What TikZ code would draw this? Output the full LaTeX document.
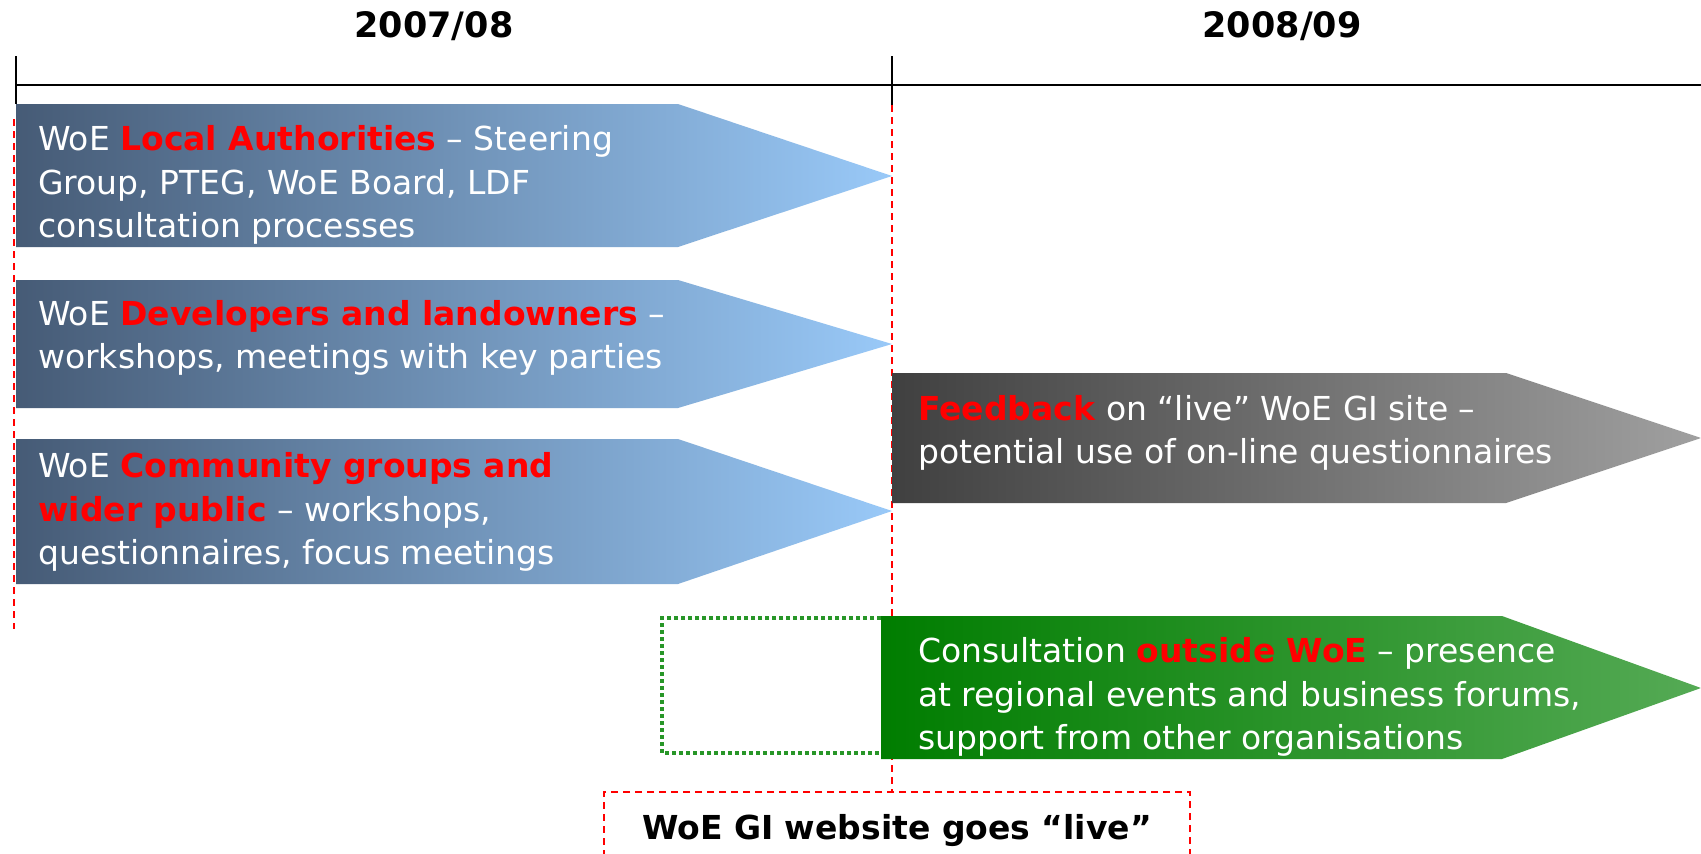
\documentclass[tikz,border=0pt]{standalone}
\usepackage{fontspec}
\setmainfont{DejaVu Sans}
\usetikzlibrary{positioning}
\definecolor{slate}{RGB}{70,91,118}
\definecolor{sky}{RGB}{153,201,248}
\definecolor{coal}{RGB}{64,64,64}
\definecolor{ash}{RGB}{160,160,160}
\definecolor{leaf}{RGB}{0,125,0}
\definecolor{lime}{RGB}{85,170,85}
\definecolor{dotgreen}{RGB}{40,150,40}
\newcommand{\redbf}[1]{\textcolor{red}{\textbf{#1}}}
\tikzset{%
	txt/.style={text=white, align=left, anchor=west, inner sep=0pt, font=\fontsize{33}{43.5}\selectfont},
	year/.style={font=\fontsize{35}{40}\selectfont\bfseries},
	cut/.style={red, line width=1.5pt, dash pattern=on 7pt off 5pt},
	blue/.style={left color=slate, right color=sky},
	grey/.style={left color=coal, right color=ash},
	green/.style={left color=leaf, right color=lime}}

\begin{document}
\begin{tikzpicture}[x=1pt,y=-1pt]
		\useasboundingbox[fill=white] (0,0) rectangle (1701,854);
		% time line
		\node[year] (Y1) at (434,26) {2007/08};
		\node[year] (Y2) at (1282,26) {2008/09};
		\draw[line width=2pt] (16,85) -- (1701,85);
		\draw[line width=2pt] (16,56) -- (16,104);
		\draw[line width=2pt] (892,56) -- (892,105);
		\draw[cut] (14,119) -- (14,629);
		\draw[cut] (892,105) -- (892,792);
		
		% 2007/08 streams
		\shade[blue] (16,104) -- (678,104) -- (892,176) -- (678,247) -- (16,247) -- cycle;
		\shade[blue] (16,280) -- (678,280) -- (892,344) -- (678,408) -- (16,408) -- cycle;
		\shade[blue] (16,439) -- (678,439) -- (892,511) -- (678,584) -- (16,584) -- cycle;
		\node[txt] (LA) at (38,185) {WoE \redbf{Local Authorities} -- Steering\\Group, PTEG, WoE Board, LDF\\consultation processes};
		\node[txt] (DL) at (38,338) {WoE \redbf{Developers and landowners} --\\workshops, meetings with key parties};
		\node[txt] (CG) at (38,512) {WoE \redbf{Community groups and}\\\redbf{wider public} -- workshops,\\questionnaires, focus meetings};
		
		% 2008/09 streams
		\shade[grey] (892,373) -- (1506,373) -- (1701,438) -- (1506,503) -- (892,503) -- cycle;
		\node[txt] (FB) at (918,433) {\redbf{Feedback} on “live” WoE GI site --\\potential use of on-line questionnaires};
		\draw[dotgreen, line width=4pt, dash pattern=on 4pt off 3pt] (881,618) -- (662,618) -- (662,753) -- (881,753);
		\shade[green] (881,616) -- (1502,616) -- (1701,688) -- (1502,759) -- (881,759) -- cycle;
		\node[txt] (OW) at (918,697) {Consultation \redbf{outside WoE} -- presence\\at regional events and business forums,\\support from other organisations};
		
		\node[cut, draw, text=black, minimum width=586pt, minimum height=78pt, font=\fontsize{33}{40}\selectfont\bfseries] (LIVE) at (897,831) {WoE GI website goes “live”};
	\end{tikzpicture}
\end{document}
